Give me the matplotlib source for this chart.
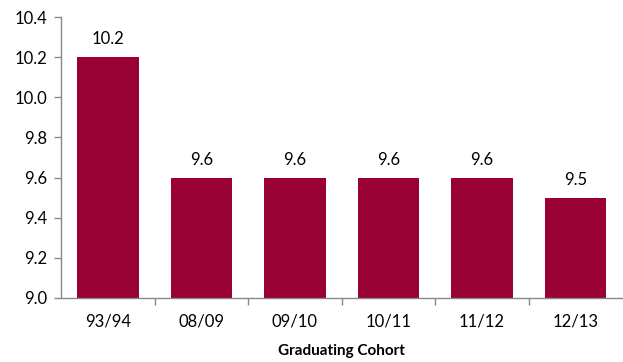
import matplotlib
matplotlib.use('Agg')
import matplotlib.pyplot as plt
import numpy as np

cohorts = ['93/94', '08/09', '09/10', '10/11', '11/12', '12/13']
values = [10.2, 9.6, 9.6, 9.6, 9.6, 9.5]

plt.rcParams['font.family'] = ['Lato', 'DejaVu Sans']

fig = plt.figure(figsize=(6.23, 3.62), dpi=100)
ax = fig.add_axes([0.098, 0.177, 0.901, 0.776])

x = np.arange(len(cohorts))
bars = ax.bar(x, np.array(values) - 9.0, bottom=9.0, width=0.66, color='#990033')

for xi, v in zip(x, values):
    ax.annotate('{0:.1f}'.format(v), (xi, v), xytext=(0, 7), textcoords='offset points',
                ha='center', va='bottom', fontsize=12, color='black')

ax.set_ylim(9.0, 10.4)
ax.set_yticks(np.arange(9.0, 10.41, 0.2))
ax.set_yticklabels(['{0:.1f}'.format(t) for t in np.arange(9.0, 10.41, 0.2)], fontsize=12)
ax.set_xlim(-0.5, len(cohorts) - 0.5)
ax.set_xticks(x)
ax.set_xticklabels(cohorts, fontsize=12)
ax.set_xticks(np.arange(0.5, len(cohorts) - 0.5, 1.0), minor=True)
ax.tick_params(axis='x', which='major', length=0, pad=11)
ax.tick_params(axis='x', which='minor', length=5, color='#888888', width=1)
ax.tick_params(axis='y', length=5, color='#888888', width=1, pad=5)

for s in ['top', 'right']:
    ax.spines[s].set_visible(False)
for s in ['left', 'bottom']:
    ax.spines[s].set_color('#888888')
    ax.spines[s].set_linewidth(1)

ax.set_xlabel('Graduating Cohort', fontsize=11, fontweight='bold', labelpad=11)

fig.savefig('out.png', dpi=100)
